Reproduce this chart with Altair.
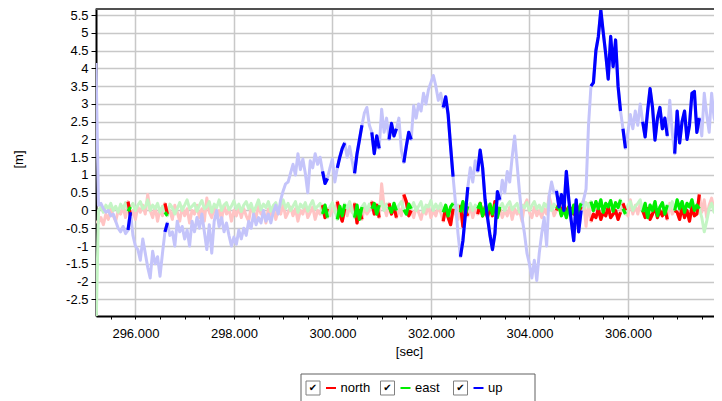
import altair as alt
import pandas as pd

# ---------------- data ----------------
series_names = ["north", "east", "up"]
solid_colors = ["#ff0000", "#00ee00", "#0000ff"]
faded_colors = ["#ffc4c4", "#c4f5c4", "#c4c4fa"]

t_start = 295.20   # first sample time [sec]
t_step = 0.05      # sample interval [sec]

north = [
    -0.3, -0.35, -0.2, -0.4, -0.1, -0.25, 0.05, -0.15, -0.3, 0.0, -0.1, 0.1, -0.2, 0.25, -0.15, 0.0, -0.25, 0.1, -0.05, 0.15,
    -0.1, 0.45, 0.0, -0.2, 0.1, -0.3, 0.05, -0.15, 0.2, -0.1, 0.0, -0.25, 0.15, -0.05, -0.3, 0.1, -0.15, 0.05, -0.35, 0.0,
    -0.1, 0.15, -0.2, 0.05, -0.3, 0.35, -0.05, -0.2, 0.1, -0.15, 0.0, -0.25, 0.15, -0.1, 0.05, -0.3, 0.0, -0.15, 0.1, -0.2,
    0.05, -0.15, -0.3, 0.1, -0.05, -0.2, 0.15, -0.1, 0.0, -0.35, 0.05, -0.15, 0.1, -0.25, 0.0, -0.1, 0.2, -0.2, -0.05, 0.1,
    -0.15, 0.05, -0.3, 0.0, -0.1, 0.15, -0.2, -0.05, 0.1, -0.25, 0.0, -0.1, 0.15, -0.2, 0.05, -0.15, 0.1, -0.05, 0.25, -0.1,
    -0.3, 0.05, -0.15, 0.1, -0.05, 0.2, -0.35, 0.0, -0.25, 0.1, -0.1, 0.0, 0.25, -0.1, 0.15, -0.2, 0.75, 0.1, -0.15, 0.2,
    -0.1, 0.1, -0.2, 0.05, -0.15, 0.45, 0.25, -0.15, 0.0, -0.2, 0.1, -0.05, -0.25, 0.05, -0.1, 0.15, -0.2, 0.0, -0.15, 0.1,
    -0.05, -0.3, 0.1, -0.2, -0.4, 0.05, -0.1, -0.25, 0.15, -0.45, 0.0, -0.15, 0.1, -0.2, 0.05, -0.1, 0.2, -0.15, 0.05, -0.2,
    0.1, -0.15, 0.25, -0.1, 0.05, -0.2, 0.0, -0.15, 0.1, -0.25, 0.05, -0.1, 0.0, -0.3, 0.15, 0.3, -0.05, -0.2, 0.1, -0.15,
    0.0, -0.2, 0.05, -0.1, 0.4, 0.15, -0.15, 0.0, 0.2, -0.1, 0.15, -0.05, 0.1, 0.05, -0.1, 0.2, -0.05, 0.1, 0.3, -0.45,
    0.2, -0.3, -0.1, -0.2, 0.05, -0.25, -0.05, -0.15, 0.1, -0.2, -0.1, 0.0, -0.25, -0.05, 0.2, 0.0, -0.15, 0.3, -0.1, 0.15,
    -0.1, 0.2, 0.0, -0.2, 0.05, -0.25, -0.1, 0.1, -0.2, 0.0, -0.15, 0.05, -0.25, 0.2, -0.1, 0.0, -0.05, -0.25, 0.1, -0.2,
    0.0, -0.3, 0.1, -0.15, -0.1, 0.45, -0.05, 0.3, -0.2, 0.15, 0.35, 0.0, 0.2, -0.1,
]

east = [
    -3.5, 0.0, 0.1, -0.05, 0.15, 0.05, 0.2, 0.0, 0.12, -0.05, 0.18, 0.05, 0.22, -0.02, 0.1, 0.2, 0.0, 0.15, 0.25, 0.05,
    0.1, 0.3, 0.0, 0.15, 0.05, 0.2, -0.05, 0.12, -0.05, -0.15, 0.18, 0.08, -0.1, 0.05, 0.22, 0.0, 0.15, 0.3, 0.05, 0.12,
    0.2, -0.02, 0.15, 0.28, 0.05, 0.1, 0.25, -0.05, 0.18, 0.08, 0.3, 0.0, 0.15, 0.22, 0.02, 0.12, 0.27, 0.05, 0.18, -0.03,
    0.15, 0.25, 0.05, 0.2, -0.05, 0.12, 0.3, 0.02, 0.18, 0.08, 0.25, -0.02, 0.14, 0.22, 0.0, 0.16, 0.3, 0.06, 0.2, 0.0,
    0.12, 0.25, -0.05, 0.18, 0.08, 0.22, -0.02, 0.15, 0.28, 0.04, 0.12, 0.2, -0.1, 0.15, -0.2, 0.1, 0.22, 0.0, -0.25, 0.12,
    -0.15, 0.18, 0.05, 0.25, 0.0, -0.2, 0.15, -0.25, 0.1, 0.2, 0.0, 0.18, 0.05, 0.2, -0.1, 0.15, 0.25, 0.0, 0.18, 0.1,
    -0.05, 0.2, 0.0, 0.15, 0.25, 0.02, -0.1, 0.18, 0.05, 0.22, 0.0, 0.12, 0.25, -0.05, 0.15, 0.1, 0.28, 0.0, 0.18, 0.05,
    0.2, -0.05, 0.15, -0.15, 0.1, 0.2, 0.0, 0.15, -0.05, 0.25, -0.1, 0.12, 0.2, 0.0, 0.15, 0.05, 0.2, -0.15, 0.1, 0.0,
    0.18, -0.1, 0.15, -0.2, 0.1, 0.2, 0.0, 0.15, 0.25, 0.02, 0.12, 0.2, -0.05, 0.15, 0.08, 0.22, 0.0, 0.14, 0.25, 0.05,
    0.15, -0.02, 0.2, 0.1, 0.25, 0.0, 0.18, 0.05, 0.12, -0.15, 0.05, -0.2, 0.1, -0.1, 0.15, -0.25, 0.0, 0.2, 0.05, 0.22,
    0.1, 0.25, 0.0, 0.25, 0.05, 0.3, -0.05, 0.2, 0.1, 0.28, -0.02, 0.22, 0.08, 0.3, 0.05, -0.1, 0.15, 0.25, 0.0, 0.12,
    0.2, 0.3, -0.05, 0.2, -0.2, 0.15, 0.0, 0.25, -0.15, 0.1, 0.22, -0.1, 0.15, 0.05, 0.25, 0.0, 0.3, 0.05, 0.25, -0.05,
    0.2, 0.1, 0.3, 0.0, 0.15, 0.05, -0.2, -0.6, -0.3, 0.05, 0.2, -0.05, 0.15, 0.0,
]

up = [
    4.15, 0.15, 0.2, 0.05, -0.05, 0.0, -0.15, -0.1, -0.3, -0.5, -0.6, -0.45, -0.65, -0.55, -0.05, -0.7, -1.0, -1.1, -1.4, -0.8,
    -1.2, -1.6, -1.9, -1.15, -1.5, -1.3, -1.85, -1.2, -0.6, -0.35, -0.7, -0.6, -1.0, -0.3, -0.6, -0.45, -0.8, -0.55, -1.0, -0.3,
    -0.6, -0.2, -0.5, -0.1, -0.6, -1.1, -0.4, -1.2, -0.3, 0.0, -0.45, -0.2, -0.6, -0.35, -0.7, -1.0, -0.75, -0.95, -0.55, -0.8,
    -0.5, -0.7, -0.3, -0.5, -0.1, -0.4, -0.2, -0.35, 0.0, -0.3, -0.1, -0.35, -0.05, 0.15, -0.1, 0.3, 0.55, 0.75, 0.8, 1.05,
    1.3, 1.0, 1.6, 1.15, 1.45, 1.05, 0.5, 1.4, 1.2, 1.6, 1.3, 1.5, 1.1, 0.76, 0.9, 1.2, 1.45, 0.8, 1.2, 1.5,
    1.75, 1.9, 1.5, 1.8, 1.4, 1.05, 1.6, 2.0, 2.4, 2.75, 2.9, 2.4, 2.2, 1.6, 2.1, 1.75, 2.85, 2.2, 2.6, 2.0,
    2.45, 2.1, 2.3, 2.6, 1.7, 1.35, 1.8, 2.2, 2.0, 2.95, 2.6, 3.0, 2.8, 3.3, 3.0, 3.4, 3.6, 3.8, 3.5, 3.1,
    3.3, 2.9, 3.2, 2.7, 1.8, 0.95, 0.2, -0.65, -1.3, -0.85, -0.1, 0.66, 1.2, 0.8, 1.4, 1.1, 1.7, 1.2, 0.3, -0.2,
    -0.7, -1.1, -0.65, 0.53, 0.3, 0.85, 0.5, 1.1, 0.8, 1.5, 2.1, 1.3, 0.5, -0.2, -0.65, -1.2, -1.5, -1.9, -1.4, -1.97,
    -1.2, -0.65, -0.2, -1.0, 0.4, 0.8, 0.5, 0.55, 0.1, 0.45, 0.0, 1.1, 0.3, -0.3, -0.85, 0.3, -0.6, 0.0, 0.3, 0.6,
    2.4, 3.5, 3.6, 4.5, 4.9, 5.64, 5.0, 4.4, 3.7, 4.9, 4.05, 4.8, 3.5, 2.8, 2.3, 1.75, 2.2, 2.7, 2.3, 2.8,
    2.4, 3.0, 2.5, 2.07, 2.8, 3.43, 2.9, 1.98, 2.6, 2.9, 2.3, 2.6, 2.1, 3.1, 2.2, 1.6, 2.8, 1.9, 2.5, 2.8,
    2.0, 2.4, 3.3, 3.35, 2.2, 2.6, 2.1, 3.3, 2.7, 2.2, 3.3, 2.6, 2.4, 2.3,
]

# time spans [sec] drawn in full colour (the rest is drawn faded)
solid_spans = [
    (295.85, 295.90), (296.60, 296.65), (299.80, 299.90), (300.10, 300.25),
    (300.45, 300.60), (300.80, 300.95), (301.15, 301.30), (301.45, 301.60),
    (302.25, 302.45), (302.60, 302.75), (302.95, 303.40), (304.55, 305.05),
    (305.25, 305.85), (305.90, 305.95), (306.30, 306.80), (306.95, 307.45),
]

x_ticks = [295.5, 296.0, 296.5, 297.0, 297.5, 298.0, 298.5, 299.0, 299.5, 300.0,
           300.5, 301.0, 301.5, 302.0, 302.5, 303.0, 303.5, 304.0, 304.5, 305.0,
           305.5, 306.0, 306.5, 307.0, 307.5]
y_ticks = [-2.5, -2.0, -1.5, -1.0, -0.5, 0.0, 0.5, 1.0, 1.5, 2.0, 2.5,
           3.0, 3.5, 4.0, 4.5, 5.0, 5.5]

x_domain = [295.2, 307.748]
y_domain = [-2.97, 5.70]

# ---------------- build table ----------------
rows = []
for name, vals in zip(series_names, [north, east, up]):
    for i, v in enumerate(vals):
        t = round(t_start + i * t_step, 2)
        seg = -1
        for k, (a, b) in enumerate(solid_spans):
            if a - 1e-6 <= t <= b + 1e-6:
                seg = k
                break
        rows.append({"t": t, "v": v, "series": name, "seg": seg})
df = pd.DataFrame(rows)

FONT = "Liberation Sans"
W, H = 618, 308

x_enc = alt.X(
    "t:Q",
    scale=alt.Scale(domain=x_domain, nice=False, zero=False),
    axis=alt.Axis(
        values=x_ticks,
        labelExpr="datum.value % 2 === 0 ? format(datum.value, '.3f') : ''",
        labelOverlap=False, labelFlush=False,
        grid=True, gridColor="#c8c8c8", gridWidth=1.5,
        gridOpacity={"condition": {"test": "datum.value % 2 === 0", "value": 1}, "value": 0},
        domainColor="black", domainWidth=2,
        tickColor="black", tickSize=3, tickWidth=1,
        labelPadding=14, labelBaseline="middle",
        labelFont=FONT, labelFontSize=13, labelColor="black",
        title="[sec]", titleFont=FONT, titleFontSize=13, titleFontWeight="normal",
        titleColor="black", titleX=313, titleY=35,
        titleAlign="center", titleBaseline="middle",
    ),
)
y_enc = alt.Y(
    "v:Q",
    scale=alt.Scale(domain=y_domain, nice=False, zero=False),
    axis=alt.Axis(
        values=y_ticks,
        labelExpr="toString(datum.value)",
        labelOverlap=False, labelFlush=False,
        grid=True, gridColor="#c8c8c8", gridWidth=1.5,
        domainColor="black", domainWidth=2,
        tickColor="black", tickSize=5, tickWidth=1,
        labelPadding=3,
        labelFont=FONT, labelFontSize=13, labelColor="black",
        title="[m]", titleFont=FONT, titleFontSize=13, titleFontWeight="normal",
        titleColor="black", titleX=-78, titleY=151, titleAngle=270,
        titleAlign="center", titleBaseline="middle",
    ),
)

layers = []
for name, col in zip(series_names, faded_colors):
    layers.append(
        alt.Chart(df).transform_filter(alt.datum.series == name)
        .mark_line(color=col, strokeWidth=3, clip=True, strokeJoin="round")
        .encode(x=x_enc, y=y_enc)
    )
for name, col in zip(series_names, solid_colors):
    layers.append(
        alt.Chart(df).transform_filter((alt.datum.series == name) & (alt.datum.seg >= 0))
        .mark_line(color=col, strokeWidth=3.2, clip=True, strokeJoin="round")
        .encode(x=x_enc, y=y_enc, detail="seg:N")
    )

# top frame line of the plot
one = pd.DataFrame({"k": [0]})
layers.append(
    alt.Chart(one).mark_rule(color="#505050", strokeWidth=2)
    .encode(x=alt.value(0), x2=alt.value(W), y=alt.value(1))
)

# ---------------- legend (checkbox, dash, label) ----------------
legend_cx = [217, 291.5, 364.5]   # checkbox centres (px, plot coords)
legend_cy = 380
layers.append(
    alt.Chart(one).mark_rect(fill="white", stroke="#606060", strokeWidth=1)
    .encode(x=alt.value(205), x2=alt.value(439), y=alt.value(366), y2=alt.value(400))
)
for name, col, cx in zip(series_names, solid_colors, legend_cx):
    nd = pd.DataFrame({"name": [name]})
    layers.append(
        alt.Chart(nd).mark_rect(fill="white", stroke="#808080", strokeWidth=1)
        .encode(x=alt.value(cx - 7), x2=alt.value(cx + 7),
                y=alt.value(legend_cy - 7), y2=alt.value(legend_cy + 7))
    )
    layers.append(
        alt.Chart(nd).mark_text(text="\u2714", font="DejaVu Sans", fontSize=10,
                                color="black", align="center", baseline="middle")
        .encode(x=alt.value(cx), y=alt.value(legend_cy))
    )
    layers.append(
        alt.Chart(nd).mark_rule(color=col, strokeWidth=2)
        .encode(x=alt.value(cx + 13), x2=alt.value(cx + 23), y=alt.value(legend_cy))
    )
    layers.append(
        alt.Chart(nd).mark_text(font=FONT, fontSize=13, color="black",
                                align="left", baseline="middle")
        .encode(x=alt.value(cx + 27.5), y=alt.value(legend_cy), text="name:N")
    )

chart = (
    alt.layer(*layers)
    .properties(
        width=W, height=H,
        autosize=alt.AutoSizeParams(type="none"),
        padding={"left": 88, "top": 0, "right": 0, "bottom": 85},
        background="white",
    )
    .configure_view(stroke=None)
)

chart.save("out.html", embed_options={"renderer": "svg", "actions": False})
